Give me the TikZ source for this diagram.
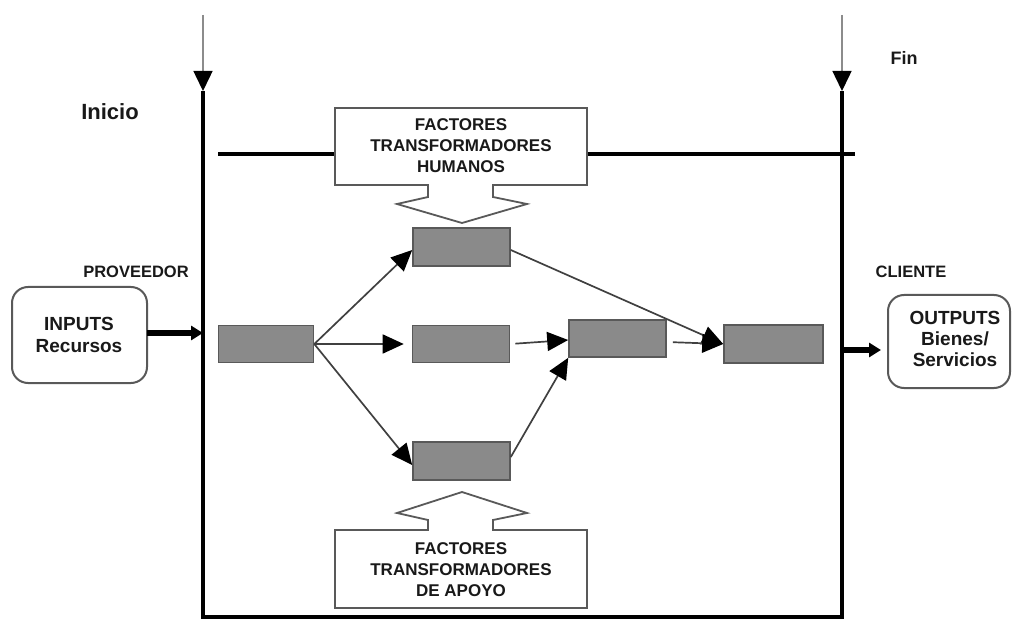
\documentclass[tikz,border=0pt]{standalone}
\usepackage{fontspec}
\setmainfont{Liberation Sans}
\usetikzlibrary{arrows.meta}
\begin{document}
\begin{tikzpicture}[x=1pt,y=-1pt,
  proc/.style={draw=black!65, fill=black!46, line width=1.6pt, inner sep=0pt},
  flow/.style={draw=black!75, line width=1.7pt, -{Triangle[length=21pt,width=19pt,color=black]}},
  bigflow/.style={draw=black, line width=6pt, -{Triangle[length=12pt,width=14pt]}},
  stem/.style={draw=black!45, line width=1.5pt, -{Triangle[length=20pt,width=19pt,color=black]}},
  frame/.style={draw=black, line width=4pt},
  callout/.style={draw=black!65, line width=1.8pt, fill=white, line join=miter},
  label/.style={font=\bfseries\fontsize{17}{21}\selectfont, text=black!90, align=center, inner sep=0pt},
  io/.style={draw=black!65, line width=2pt, rounded corners=16pt, fill=white}
]
\useasboundingbox (0,0) rectangle (1012,620);

% frame
\coordinate (ltop) at (203,15);
\coordinate (lhead) at (203,91);
\coordinate (lbot) at (203,617);
\coordinate (rtop) at (842,15);
\coordinate (rhead) at (842,91);
\coordinate (rbot) at (842,617);
\coordinate (hl) at (218,154);
\coordinate (hr) at (855,154);
\draw[stem] (ltop) -- (lhead);
\draw[stem] (rtop) -- (rhead);
\draw[frame] (lhead) -- (lbot) -- (rbot) -- (rhead);
\draw[frame] (hl) -- (hr);

% top callout
\draw[callout] (335,108) -- (587,108) -- (587,185) -- (493,185) -- (493,197) -- (527,204)
  -- (462,223) -- (397,204) -- (428,197) -- (428,185) -- (335,185) -- cycle;
\node[label] (fh) at (461,146) {FACTORES\\TRANSFORMADORES\\HUMANOS};

% bottom callout
\draw[callout] (335,608) -- (587,608) -- (587,530) -- (493,530) -- (493,520) -- (527,513)
  -- (462,492) -- (397,513) -- (428,520) -- (428,530) -- (335,530) -- cycle;
\node[label] (fa) at (461,570) {FACTORES\\TRANSFORMADORES\\DE APOYO};

% labels
\node[label, font=\bfseries\fontsize{22}{26}\selectfont] (inicio) at (110,112) {Inicio};
\node[label, font=\bfseries\fontsize{18}{22}\selectfont] (fin) at (904,58) {Fin};
\node[label, font=\bfseries\fontsize{16.5}{20}\selectfont] (prov) at (136,272) {PROVEEDOR};
\node[label, font=\bfseries\fontsize{16.5}{20}\selectfont] (cli) at (911,272) {CLIENTE};

% input/output boxes
\draw[io] (12,287) rectangle (147,383);
\node[label, font=\bfseries\fontsize{19}{22}\selectfont] (in) at (79,335) {INPUTS\\Recursos};
\draw[io] (888,295) rectangle (1010,388);
\node[label, font=\bfseries\fontsize{19}{21}\selectfont] (out) at (955,339) {OUTPUTS\\Bienes/\\Servicios};
\coordinate (inR) at (147,333);
\coordinate (inL) at (203,333);
\coordinate (outL) at (842,350);
\coordinate (outR) at (881,350);
\draw[bigflow] (inR) -- (inL);
\draw[bigflow] (outL) -- (outR);

% process boxes
\node[proc, minimum width=95pt, minimum height=37pt] (A) at (266,344) {};
\node[proc, minimum width=97pt, minimum height=38pt] (T) at (461.5,247) {};
\node[proc, minimum width=97pt, minimum height=37pt] (M) at (461,344) {};
\node[proc, minimum width=97pt, minimum height=38pt] (B) at (461.5,461) {};
\node[proc, minimum width=97pt, minimum height=37pt] (C) at (617.5,338.5) {};
\node[proc, minimum width=99pt, minimum height=38pt] (R) at (773.5,344) {};

% flows
\draw[flow] (A.east) -- ([yshift=-3pt]T.west);
\draw[flow, shorten >=8pt] (A.east) -- (M.west);
\draw[flow] (A.east) -- ([yshift=-4pt]B.west);
\draw[flow, shorten <=5pt] (M.east) -- ([yshift=-1.5pt]C.west);
\draw[flow] ([yshift=4pt]B.east) -- (C.south west);
\draw[flow] ([yshift=-3pt]T.east) -- (R.west);
\draw[flow, shorten <=6pt] ([yshift=-3.5pt]C.east) -- (R.west);
\end{tikzpicture}
\end{document}
